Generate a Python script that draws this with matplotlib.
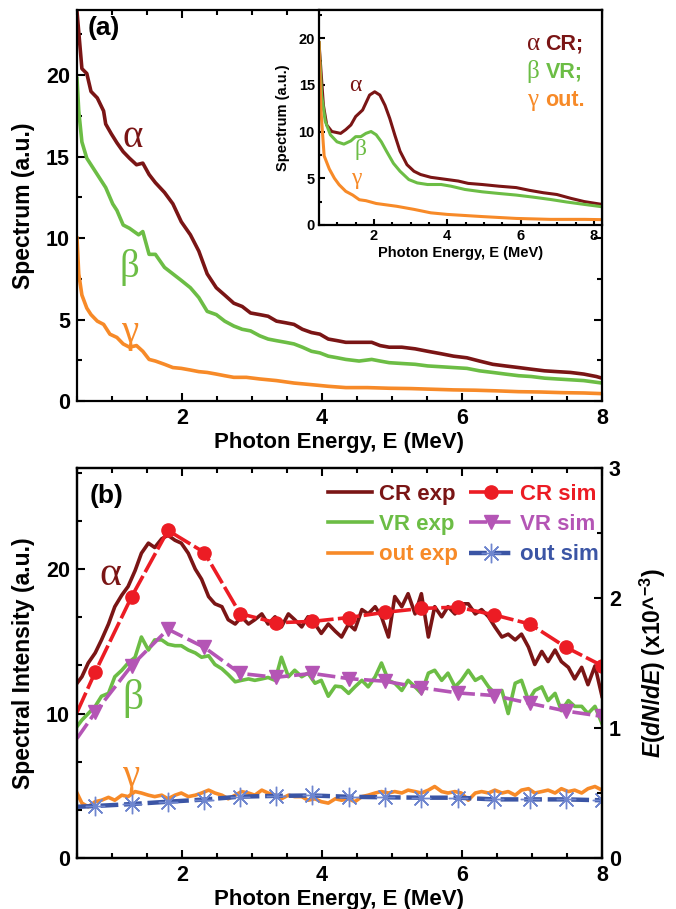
import matplotlib
matplotlib.use('Agg')
import matplotlib.pyplot as plt
from matplotlib.ticker import MultipleLocator, AutoMinorLocator

plt.rcParams['font.family'] = ['Liberation Sans', 'DejaVu Sans']
plt.rcParams['font.weight'] = 'bold'
plt.rcParams['axes.labelweight'] = 'bold'
plt.rcParams['mathtext.fontset'] = 'custom'
plt.rcParams['mathtext.it'] = 'Liberation Sans:italic:bold'
plt.rcParams['mathtext.rm'] = 'Liberation Sans:bold'
plt.rcParams['mathtext.bf'] = 'Liberation Sans:bold'

# ---- panel (a): measured spectra ----
e_cr_a = [0.50, 0.57, 0.64, 0.70, 0.79, 0.88, 0.91, 0.99, 1.07, 1.16, 1.25, 1.35, 1.44, 1.53, 1.62,
          1.75, 1.87, 1.99, 2.12, 2.24, 2.36, 2.49, 2.61, 2.74, 2.86, 2.98, 3.11, 3.23, 3.35, 3.48,
          3.60, 3.72, 3.85, 3.97, 4.09, 4.22, 4.34, 4.53, 4.71, 4.83, 4.96, 5.14, 5.33, 5.51, 5.70,
          5.88, 6.07, 6.25, 6.44, 6.62, 6.81, 6.99, 7.18, 7.36, 7.55, 7.74, 7.92, 8.00]
cr_a = [23.9, 20.4, 20.1, 19.0, 18.6, 17.8, 17.0, 16.4, 15.85, 15.3, 14.9, 14.5, 14.6, 13.9, 13.4,
        12.8, 12.1, 11.0, 10.2, 9.2, 7.8, 6.95, 6.5, 6.0, 5.8, 5.4, 5.3, 5.2, 4.9, 4.8,
        4.7, 4.4, 4.2, 4.1, 3.8, 3.7, 3.6, 3.6, 3.6, 3.4, 3.3, 3.3, 3.2, 3.05, 2.9,
        2.75, 2.65, 2.45, 2.25, 2.15, 2.05, 1.95, 1.85, 1.8, 1.75, 1.65, 1.5, 1.4]

e_vr_a = [0.50, 0.525, 0.57, 0.64, 0.73, 0.82, 0.91, 1.01, 1.07, 1.16, 1.25, 1.38, 1.44, 1.53, 1.62,
          1.75, 1.87, 1.99, 2.12, 2.24, 2.36, 2.49, 2.61, 2.74, 2.86, 2.98, 3.11, 3.23, 3.35, 3.48,
          3.60, 3.72, 3.85, 3.97, 4.09, 4.22, 4.34, 4.53, 4.71, 4.83, 4.96, 5.14, 5.33, 5.51, 5.70,
          5.88, 6.07, 6.25, 6.44, 6.62, 6.81, 6.99, 7.18, 7.36, 7.55, 7.74, 8.00]
vr_a = [19.8, 17.8, 15.9, 14.9, 14.3, 13.7, 13.1, 12.1, 11.7, 10.8, 10.6, 10.2, 10.4, 9.0, 9.0,
        8.2, 7.8, 7.4, 6.95, 6.35, 5.5, 5.3, 4.9, 4.6, 4.4, 4.3, 4.0, 3.8, 3.7, 3.6,
        3.5, 3.3, 3.05, 2.95, 2.75, 2.65, 2.55, 2.45, 2.55, 2.45, 2.35, 2.3, 2.25, 2.15, 2.1,
        2.05, 2.0, 1.85, 1.75, 1.65, 1.55, 1.5, 1.4, 1.35, 1.3, 1.25, 1.1]

e_out_a = [0.50, 0.525, 0.57, 0.64, 0.70, 0.79, 0.88, 0.97, 1.07, 1.16, 1.25, 1.35, 1.44, 1.53, 1.62,
           1.75, 1.87, 1.99, 2.12, 2.24, 2.36, 2.49, 2.61, 2.74, 2.92, 3.11, 3.35, 3.60, 3.85, 4.09,
           4.34, 4.65, 4.96, 5.27, 5.57, 5.88, 6.19, 6.50, 6.81, 7.12, 7.43, 7.74, 8.00]
out_a = [10.0, 7.8, 6.5, 5.7, 5.3, 4.9, 4.7, 4.1, 3.9, 3.5, 3.3, 3.4, 3.05, 2.55, 2.45,
         2.25, 2.05, 2.0, 1.9, 1.8, 1.75, 1.65, 1.55, 1.45, 1.45, 1.35, 1.25, 1.1, 1.0, 0.9,
         0.82, 0.82, 0.78, 0.76, 0.72, 0.68, 0.66, 0.62, 0.57, 0.55, 0.51, 0.49, 0.45]

# ---- inset ----
e_cr_in = [0.50, 0.62, 0.71, 0.85, 1.09, 1.23, 1.37, 1.50, 1.69, 1.88, 2.02, 2.16, 2.30, 2.43, 2.57,
           2.71, 2.90, 3.09, 3.27, 3.55, 4.00, 4.30, 4.57, 4.95, 5.41, 5.88, 6.25, 6.62, 6.99, 7.37,
           7.74, 8.22]
cr_in = [19.5, 12.8, 10.7, 10.0, 9.8, 10.2, 10.7, 11.6, 12.3, 13.9, 14.25, 13.9, 12.8, 11.4, 9.6,
         7.9, 6.45, 5.75, 5.4, 5.1, 4.86, 4.7, 4.45, 4.33, 4.15, 4.0, 3.7, 3.45, 3.26, 2.85,
         2.5, 2.2]
e_vr_in = [0.50, 0.57, 0.67, 0.81, 0.99, 1.18, 1.37, 1.50, 1.64, 1.78, 1.92, 2.06, 2.20, 2.34, 2.53,
           2.71, 2.95, 3.18, 3.46, 3.83, 4.10, 4.48, 4.95, 5.41, 5.88, 6.34, 6.81, 7.27, 7.74, 8.22]
vr_in = [19.5, 13.9, 11.1, 9.65, 8.9, 8.65, 9.0, 9.45, 9.45, 9.8, 10.0, 9.65, 8.9, 7.9, 6.6,
         5.75, 4.86, 4.5, 4.33, 4.33, 4.15, 3.8, 3.55, 3.37, 3.2, 2.98, 2.73, 2.45, 2.2, 1.95]
e_out_in = [0.50, 0.55, 0.64, 0.78, 0.92, 1.05, 1.23, 1.42, 1.60, 1.78, 2.06, 2.62, 3.09, 3.55, 4.00,
            4.95, 5.88, 6.81, 7.74, 8.22]
out_in = [19.5, 12.4, 7.4, 6.0, 5.0, 4.3, 3.6, 3.2, 2.7, 2.6, 2.3, 2.0, 1.67, 1.3, 1.13,
          0.9, 0.7, 0.6, 0.6, 0.57]

# ---- panel (b): experiment (left axis) ----
e_b = [0.50, 0.57, 0.66, 0.76, 0.85, 0.95, 1.04, 1.14, 1.23, 1.33, 1.42, 1.52, 1.61, 1.71, 1.80,
       1.90, 1.99, 2.09, 2.19, 2.28, 2.38, 2.47, 2.57, 2.66, 2.76, 2.85, 2.95, 3.04, 3.14, 3.23,
       3.33, 3.42, 3.52, 3.61, 3.71, 3.80, 3.90, 3.99, 4.09,
       4.19, 4.28, 4.38, 4.47, 4.57, 4.66, 4.76, 4.85, 4.95, 5.04, 5.14, 5.23, 5.33, 5.42, 5.52,
       5.61, 5.71, 5.80, 5.90, 5.99, 6.09, 6.19, 6.28, 6.38, 6.47, 6.57, 6.66, 6.76, 6.85, 6.95,
       7.04, 7.14, 7.23, 7.33, 7.42, 7.52, 7.61, 7.71, 7.80, 7.90, 8.00]
cr_b = [12.1, 12.55, 13.5, 14.2, 15.1, 16.2, 17.4, 18.2, 18.8, 19.9, 21.1, 21.8, 21.5, 22.1, 22.35,
        22.0, 21.8, 21.1, 20.0, 19.3, 18.1, 17.6, 17.4, 16.5, 16.2, 16.7, 16.2, 16.5, 16.9, 16.2,
        16.7, 16.0, 16.9, 16.5, 16.0, 16.7, 16.2, 15.55, 16.2,
        15.7, 15.3, 16.2, 15.8, 17.2, 16.9, 17.4, 16.7, 15.3, 18.1, 17.4, 18.3, 16.9, 18.3, 15.3,
        17.4, 16.7, 17.4, 16.9, 17.6, 17.6, 16.9, 17.2, 16.7, 16.0, 15.3, 15.5, 15.1, 15.5, 14.6,
        13.4, 14.3, 13.6, 14.4, 13.6, 13.2, 12.4, 13.2, 12.0, 13.3, 11.2]
vr_b = [9.1, 9.55, 10.0, 10.5, 11.2, 11.4, 12.55, 13.0, 13.5, 13.9, 15.3, 14.4, 15.1, 15.1, 14.8,
        14.7, 14.7, 14.4, 14.2, 13.9, 14.0, 13.4, 13.1, 12.7, 12.2, 12.3, 12.4, 12.3, 12.4, 12.5,
        12.3, 13.9, 12.55, 13.0, 12.55, 12.8, 12.1, 12.3, 11.2,
        11.9, 11.85, 11.4, 11.85, 12.3, 11.85, 12.55, 13.5, 12.3, 12.1, 11.6, 12.3, 11.85, 11.4, 12.8,
        13.0, 12.3, 12.8, 11.85, 12.3, 13.0, 12.3, 12.55, 11.85, 11.4, 11.6, 10.0, 12.1, 12.3, 10.9,
        11.6, 11.85, 10.9, 11.4, 10.2, 10.9, 10.5, 10.5, 10.0, 10.5, 9.3]
out_b = [4.5, 3.8, 3.55, 3.9, 4.0, 4.2, 4.0, 4.35, 4.25, 4.6, 4.5, 4.35, 4.25, 4.35, 4.1,
         4.35, 4.5, 4.25, 4.35, 4.5, 4.7, 4.5, 4.35, 4.1, 4.35, 4.6, 4.5, 4.35, 4.7, 4.5,
         4.35, 4.1, 4.35, 4.25, 4.25, 4.0, 4.1, 3.9, 3.8,
         4.1, 4.0, 4.1, 3.9, 4.25, 4.35, 4.5, 4.6, 4.5, 4.6, 4.5, 4.7, 4.6, 4.5, 4.7,
         4.95, 4.6, 4.5, 4.6, 4.5, 4.0, 4.5, 4.6, 4.5, 4.7, 4.5, 4.6, 4.35, 4.7, 4.8,
         4.5, 4.6, 4.7, 4.5, 4.8, 4.6, 4.7, 4.5, 4.8, 4.95, 4.7]

# ---- panel (b): simulation (right axis, x10^-3); first point is the left edge, no marker ----
e_sim = [0.50, 0.76, 1.28, 1.80, 2.32, 2.83, 3.34, 3.86, 4.38, 4.90, 5.42, 5.94, 6.46, 6.97, 7.49, 8.00]
cr_sim = [1.12, 1.43, 2.01, 2.52, 2.35, 1.88, 1.81, 1.82, 1.85, 1.89, 1.92, 1.93, 1.87, 1.80, 1.62, 1.48]
vr_sim = [0.92, 1.12, 1.48, 1.76, 1.62, 1.42, 1.39, 1.42, 1.38, 1.36, 1.31, 1.27, 1.25, 1.19, 1.13, 1.09]
out_sim = [0.394, 0.400, 0.415, 0.433, 0.450, 0.472, 0.478, 0.481, 0.471, 0.467, 0.464, 0.464,
           0.451, 0.451, 0.451, 0.444]

c_cr = '#7a1515'
c_vr = '#6cbd45'
c_out = '#f78a28'
c_crs = '#ec1c24'
c_vrs = '#b455b5'
c_outs = '#3b55a5'
serif = ['Liberation Serif', 'DejaVu Serif']


def style(ax, fs, major=6, minor=3.5, mirror=True):
    ax.tick_params(which='both', direction='in', width=1.5, labelsize=fs,
                   top=mirror, right=mirror, pad=5)
    ax.tick_params(which='major', length=major)
    ax.tick_params(which='minor', length=minor)
    for s in ax.spines.values():
        s.set_linewidth(1.6)


def greek(ax, x, y, s, c, fs):
    ax.text(x, y, s, color=c, fontsize=fs, family=serif, fontweight='normal', ha='center')


fig = plt.figure(figsize=(6.76, 9.09), dpi=100)

# panel (a)
ax = fig.add_axes([0.1139, 0.5589, 0.7766, 0.4301])
ax.plot(e_cr_a, cr_a, color=c_cr, lw=2.6)
ax.plot(e_vr_a, vr_a, color=c_vr, lw=2.6)
ax.plot(e_out_a, out_a, color=c_out, lw=2.6)
ax.set_xlim(0.5, 8)
ax.set_ylim(0, 24)
ax.xaxis.set_major_locator(MultipleLocator(2))
ax.xaxis.set_minor_locator(MultipleLocator(0.5))
ax.yaxis.set_major_locator(MultipleLocator(5))
ax.yaxis.set_minor_locator(MultipleLocator(2.5))
style(ax, 15.5)
ax.set_xlabel('Photon Energy, E (MeV)', fontsize=16, labelpad=2)
ax.set_ylabel('Spectrum (a.u.)', fontsize=16.5, labelpad=8)
ax.text(0.021, 0.985, '(a)', transform=ax.transAxes, fontsize=19, ha='left', va='top')
greek(ax, 1.30, 15.6, 'α', c_cr, 28)
greek(ax, 1.25, 7.6, 'β', c_vr, 28)
greek(ax, 1.25, 3.6, 'γ', c_out, 28)

# inset
axi = fig.add_axes([0.4719, 0.7525, 0.4186, 0.2365])
axi.plot(e_cr_in, cr_in, color=c_cr, lw=2.2)
axi.plot(e_vr_in, vr_in, color=c_vr, lw=2.2)
axi.plot(e_out_in, out_in, color=c_out, lw=2.2)
axi.set_xlim(0.5, 8.22)
axi.set_ylim(0, 23)
axi.xaxis.set_major_locator(MultipleLocator(2))
axi.xaxis.set_minor_locator(MultipleLocator(0.5))
axi.yaxis.set_major_locator(MultipleLocator(5))
axi.yaxis.set_minor_locator(MultipleLocator(2.5))
style(axi, 10.5, major=4.5, minor=2.5, mirror=False)
axi.tick_params(pad=3)
axi.set_xlabel('Photon Energy, E (MeV)', fontsize=10.5, labelpad=2)
axi.set_ylabel('Spectrum (a.u.)', fontsize=10.5, labelpad=6)
greek(axi, 1.50, 14.3, 'α', c_cr, 17)
greek(axi, 1.62, 7.5, 'β', c_vr, 17)
greek(axi, 1.52, 4.4, 'γ', c_out, 17)
for yy, g, name, c in [(0.843, 'α', 'CR;', c_cr), (0.712, 'β', 'VR;', c_vr), (0.581, 'γ', 'out.', c_out)]:
    axi.text(0.734, yy, g, color=c, fontsize=18, family=serif, fontweight='normal',
             transform=axi.transAxes, ha='left', va='center')
    axi.text(0.80, yy, name, color=c, fontsize=15.5, transform=axi.transAxes,
             ha='left', va='center')

# panel (b)
bx = fig.add_axes([0.1139, 0.0561, 0.7766, 0.4290])
h1, = bx.plot(e_b, cr_b, color=c_cr, lw=2.6, label='CR exp')
h2, = bx.plot(e_b, vr_b, color=c_vr, lw=2.6, label='VR exp')
h3, = bx.plot(e_b, out_b, color=c_out, lw=2.6, label='out exp')
bx.set_xlim(0.5, 8)
bx.set_ylim(0, 27)
bx.xaxis.set_major_locator(MultipleLocator(2))
bx.xaxis.set_minor_locator(MultipleLocator(0.5))
bx.yaxis.set_major_locator(MultipleLocator(10))
bx.yaxis.set_minor_locator(AutoMinorLocator(3))
style(bx, 15.5)
bx.tick_params(right=False)
bx.set_xlabel('Photon Energy, E (MeV)', fontsize=16, labelpad=2)
bx.set_ylabel('Spectral Intensity (a.u.)', fontsize=16.5, labelpad=8)
bx.text(0.025, 0.96, '(b)', transform=bx.transAxes, fontsize=19, ha='left', va='top')
greek(bx, 0.98, 18.9, 'α', c_cr, 30)
greek(bx, 1.30, 10.3, 'β', c_vr, 30)
greek(bx, 1.27, 5.0, 'γ', c_out, 28)

b2 = bx.twinx()
mk = list(range(1, len(e_sim)))
h4, = b2.plot(e_sim, cr_sim, color=c_crs, lw=2.6, dashes=(6, 1.2), marker='o', ms=9.5,
              markevery=mk, label='CR sim')
h5, = b2.plot(e_sim, vr_sim, color=c_vrs, lw=2.6, dashes=(5, 1.5), marker='v', ms=10.5,
              markevery=mk, label='VR sim')
h6, = b2.plot(e_sim, out_sim, color=c_outs, lw=3.2, dashes=(4, 1.3), marker=(8, 2, 0), ms=14,
              mew=1, mec='#6f86cf', markevery=mk, label='out sim')
b2.set_ylim(0, 3)
b2.yaxis.set_major_locator(MultipleLocator(1))
b2.yaxis.set_minor_locator(MultipleLocator(0.5))
style(b2, 15.5)
b2.tick_params(left=False, top=False)
b2.set_ylabel(r'$\mathit{E(dN/dE)}$ (x10^$^{-3}$)', fontsize=16.5, labelpad=12)

b2.legend(handles=[h1, h2, h3, h4, h5, h6], ncol=2, loc='upper left',
          bbox_to_anchor=(0.478, 0.96), frameon=False, fontsize=16, labelcolor='linecolor',
          handlelength=2.0, handletextpad=0.3, columnspacing=0.5, labelspacing=0.42,
          borderaxespad=0, borderpad=0)

fig.savefig('out.png', dpi=100)
